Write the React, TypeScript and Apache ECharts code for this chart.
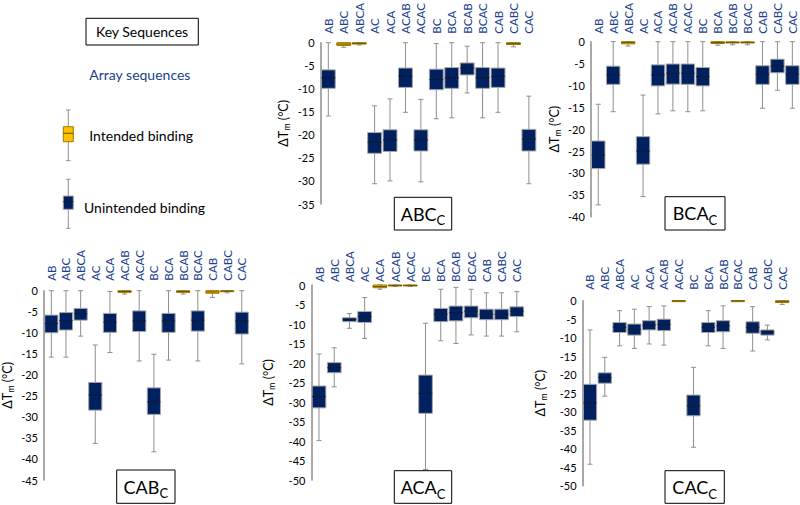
import React, { useEffect, useRef } from "react";
import * as echarts from "echarts";

const categories = ["AB", "ABC", "ABCA", "AC", "ACA", "ACAB", "ACAC", "BC", "BCA", "BCAB", "BCAC", "CAB", "CABC", "CAC"];

// [min, q1, median, q3, max] per category
const abcData = [
  [-15.9, -9.9, -7.6, -5.9, 0],
  [-1.0, -0.6, -0.3, 0, 0],
  [-0.5, -0.3, -0.15, 0, 0],
  [-30.6, -24.0, -21.6, -19.5, -13.7],
  [-30.0, -23.6, -21.1, -18.9, -12.2],
  [-15.1, -9.7, -7.3, -5.5, 0],
  [-30.2, -23.5, -21.1, -18.9, -12.3],
  [-16.5, -10.2, -8.0, -5.75, -0.2],
  [-16.3, -9.9, -7.6, -5.4, 0],
  [-10.9, -7.0, -5.5, -4.4, -0.76],
  [-16.3, -9.9, -7.6, -5.4, 0],
  [-15.1, -9.7, -7.3, -5.5, 0],
  [-0.9, -0.4, -0.2, 0, 0],
  [-30.6, -23.5, -20.9, -18.8, -11.6],
];
const bcaData = [
  [-37.3, -29.0, -25.9, -22.7, -14.3],
  [-16.0, -9.75, -7.6, -5.6, 0],
  [-1.0, -0.5, -0.2, 0, 0],
  [-35.4, -28.0, -25.0, -21.7, -12.2],
  [-16.5, -10.1, -7.6, -5.3, 0],
  [-15.8, -9.7, -7.2, -5.1, 0],
  [-16.0, -9.75, -7.2, -5.1, 0],
  [-15.8, -10.1, -8.0, -5.9, 0],
  [-0.8, -0.4, -0.2, 0, 0],
  [-0.7, -0.3, -0.15, -0.05, 0],
  [-0.7, -0.3, -0.15, -0.05, 0],
  [-15.2, -9.75, -7.4, -5.5, 0],
  [-11.1, -7.1, -5.6, -4.0, 0],
  [-15.2, -9.75, -7.4, -5.5, 0],
];
const cabData = [
  [-15.8, -10.0, -7.8, -5.8, 0],
  [-15.8, -9.35, -7.1, -5.2, 0],
  [-10.8, -7.0, -5.5, -4.2, 0],
  [-36.3, -28.4, -24.8, -21.8, -12.9],
  [-14.7, -9.9, -7.5, -5.4, -0.2],
  [-0.8, -0.4, -0.2, 0, 0],
  [-16.7, -9.7, -7.2, -4.8, 0],
  [-38.3, -29.4, -26.4, -23.1, -15.1],
  [-16.5, -9.9, -7.2, -5.4, 0],
  [-0.8, -0.4, -0.2, 0, 0],
  [-16.7, -9.6, -7.0, -4.8, 0],
  [-1.6, -0.6, -0.3, 0, 0],
  [-0.5, -0.2, -0.1, 0, 0],
  [-17.4, -10.3, -7.2, -5.1, 0],
];
const acaData = [
  [-39.9, -31.5, -28.6, -25.9, -17.7],
  [-26.1, -22.5, -21.2, -19.9, -16.1],
  [-11.1, -9.4, -8.8, -8.4, -7.3],
  [-13.7, -9.6, -8.1, -6.8, -3.2],
  [-1.1, -0.7, -0.4, 0, 0],
  [-0.4, -0.2, -0.1, 0, 0],
  [-0.4, -0.2, -0.1, 0, 0],
  [-47.3, -32.9, -27.8, -23.1, -9.8],
  [-14.3, -9.4, -7.5, -6.0, -1.1],
  [-15.0, -9.2, -7.1, -5.4, -0.6],
  [-12.8, -8.4, -6.7, -5.4, -1.1],
  [-13.1, -8.9, -7.5, -6.2, -2.0],
  [-13.1, -8.9, -7.5, -6.2, -2.0],
  [-12.0, -8.1, -6.7, -5.6, -1.7],
];
const cacData = [
  [-44.2, -32.3, -27.6, -22.6, -7.9],
  [-25.8, -22.3, -20.8, -19.5, -15.3],
  [-12.2, -8.6, -7.2, -5.9, -2.7],
  [-12.9, -9.3, -7.7, -6.3, -2.3],
  [-11.7, -7.9, -6.6, -5.4, -1.6],
  [-12.0, -8.1, -6.4, -5.0, -1.4],
  [-0.15, -0.1, -0.05, 0, 0],
  [-39.6, -31.1, -28.4, -25.5, -18.0],
  [-12.2, -8.6, -7.2, -5.9, -2.7],
  [-12.9, -8.4, -6.8, -5.4, -1.4],
  [-0.15, -0.1, -0.05, 0, 0],
  [-13.6, -8.8, -7.2, -5.7, -1.6],
  [-10.6, -9.3, -8.4, -7.9, -6.6],
  [-1.0, -0.5, -0.25, 0, 0],
];

const abcIntended = ["ABC", "ABCA", "CABC"];
const bcaIntended = ["ABCA", "BCA", "BCAB", "BCAC"];
const cabIntended = ["ACAB", "BCAB", "CAB", "CABC"];
const acaIntended = ["ACA", "ACAB", "ACAC"];
const cacIntended = ["ACAC", "BCAC", "CAC"];

const yMins = [-35, -40, -45, -50, -50];
const panelNames = ["ABC", "BCA", "CAB", "ACA", "CAC"];

const FONT = "Lato, 'Noto Sans', sans-serif";
const NAVY = "#002060";
const GOLD = "#FFC000";
const LABEL_BLUE = "#203f8c";

const panels = [
  { data: abcData, intended: abcIntended, grid: { left: 320.6, top: 35.7, width: 216, height: 168.3 }, margin: 9, nameGap: 30, box: { x: 394.3, y: 197.3, w: 57.4, h: 32.7 } },
  { data: bcaData, intended: bcaIntended, grid: { left: 590.8, top: 41.7, width: 209, height: 175 }, margin: 8, nameGap: 29, box: { x: 665, y: 196.7, w: 60, h: 33.3 } },
  { data: cabData, intended: cabIntended, grid: { left: 41.9, top: 290.7, width: 207.2, height: 189.3 }, margin: 10, nameGap: 29, box: { x: 116.7, y: 470, w: 58.3, h: 33.3 } },
  { data: acaData, intended: acaIntended, grid: { left: 311.4, top: 285, width: 213, height: 195 }, margin: 3, nameGap: 35, box: { x: 394.3, y: 470.7, w: 57.4, h: 32.6 } },
  { data: cacData, intended: cacIntended, grid: { left: 582.6, top: 300.7, width: 207, height: 185 }, margin: 11, nameGap: 35, box: { x: 665, y: 470.7, w: 59.3, h: 32.6 } },
];

const renderBox = (params: any, api: any) => {
  const i = api.value(0);
  const c0 = api.coord([i, api.value(1)]);
  const x = c0[0];
  const yMin = c0[1];
  const yQ1 = api.coord([i, api.value(2)])[1];
  const yMed = api.coord([i, api.value(3)])[1];
  const yQ3 = api.coord([i, api.value(4)])[1];
  const yMax = api.coord([i, api.value(5)])[1];
  const band = api.size([1, 0])[0];
  const w = band * 0.9;
  const intended = api.value(6) === 1;
  const fill = intended ? GOLD : NAVY;
  const border = intended ? "#9c7a00" : "#a6a6a6";
  const medColor = intended ? "#6b5200" : "#111a33";
  const cap = 5;
  const wStyle = { stroke: "#8f8f8f", lineWidth: 1 };
  return {
    type: "group",
    children: [
      { type: "line", shape: { x1: x, y1: yMax, x2: x, y2: yMin }, style: wStyle },
      { type: "line", shape: { x1: x - cap / 2, y1: yMax, x2: x + cap / 2, y2: yMax }, style: wStyle },
      { type: "line", shape: { x1: x - cap / 2, y1: yMin, x2: x + cap / 2, y2: yMin }, style: wStyle },
      { type: "rect", shape: { x: x - w / 2, y: yQ3, width: w, height: Math.max(yQ1 - yQ3, 1) }, style: { fill, stroke: border, lineWidth: 1 } },
      { type: "line", shape: { x1: x - w / 2, y1: yMed, x2: x + w / 2, y2: yMed }, style: { stroke: medColor, lineWidth: 1 } },
    ],
  };
};

export default function App() {
  const ref = useRef<HTMLDivElement>(null);
  useEffect(() => {
    if (!ref.current) return;
    const chart = echarts.init(ref.current, null, { renderer: "svg" });

    const grids = panels.map((p) => ({ ...p.grid, containLabel: false }));
    const xAxes = panels.map((p, k) => ({
      type: "category",
      gridIndex: k,
      position: "top",
      data: categories,
      axisLine: { show: false },
      axisTick: { show: false },
      axisLabel: { rotate: 90, margin: p.margin, color: LABEL_BLUE, fontSize: 11.5, fontFamily: FONT, interval: 0 },
      splitLine: { show: false },
    }));
    const yAxes = panels.map((p, k) => ({
      type: "value",
      gridIndex: k,
      min: yMins[k],
      max: 0,
      interval: 5,
      axisLine: { show: true, lineStyle: { color: "#8c8c8c", width: 1.5 } },
      axisTick: { show: false },
      splitLine: { show: false },
      axisLabel: { color: "#000", fontSize: 11, fontFamily: FONT, margin: 6 },
      name: "{a|ΔT}{b|m}{a| (°C)}",
      nameLocation: "middle",
      nameRotate: 90,
      nameGap: p.nameGap,
      nameTextStyle: {
        rich: {
          a: { fontSize: 12.5, fontFamily: FONT, color: "#000" },
          b: { fontSize: 9, fontFamily: FONT, color: "#000", padding: [6, 0, 0, 0] },
        },
      },
    }));
    const series = panels.map((p, k) => ({
      type: "custom",
      xAxisIndex: k,
      yAxisIndex: k,
      renderItem: renderBox,
      encode: { x: 0, y: [1, 2, 3, 4, 5] },
      data: p.data.map((d, i) => [i, ...d, p.intended.includes(categories[i]) ? 1 : 0]),
    }));

    const titleBoxes = panels.map((p, k) => ({
      type: "group",
      children: [
        { type: "rect", shape: { x: p.box.x, y: p.box.y, width: p.box.w, height: p.box.h }, style: { fill: "#fff", stroke: "#000", lineWidth: 1 }, z: 10 },
        {
          type: "text",
          x: p.box.x + p.box.w / 2,
          y: p.box.y + p.box.h / 2,
          z: 11,
          style: {
            text: `{a|${panelNames[k]}}{b|C}`,
            align: "center",
            verticalAlign: "middle",
            rich: {
              a: { fontSize: 18, fontFamily: FONT, fill: "#000" },
              b: { fontSize: 13, fontFamily: FONT, fill: "#000", padding: [13, 0, 0, 0] },
            },
          },
        },
      ],
    }));

    const wl = { stroke: "#8f8f8f", lineWidth: 1 };
    const legend = [
      { type: "rect", shape: { x: 86, y: 18.3, width: 112.3, height: 26.7 }, style: { fill: "#fff", stroke: "#000", lineWidth: 1 } },
      { type: "text", x: 142, y: 31.7, style: { text: "Key Sequences", fontSize: 14, fontFamily: FONT, fill: "#000", align: "center", verticalAlign: "middle" } },
      { type: "text", x: 89.3, y: 74, style: { text: "Array sequences", fontSize: 14, fontFamily: FONT, fill: LABEL_BLUE, align: "left", verticalAlign: "middle" } },
      { type: "line", shape: { x1: 68.3, y1: 110, x2: 68.3, y2: 160.7 }, style: wl },
      { type: "line", shape: { x1: 66, y1: 110, x2: 70.6, y2: 110 }, style: wl },
      { type: "line", shape: { x1: 66, y1: 160.7, x2: 70.6, y2: 160.7 }, style: wl },
      { type: "rect", shape: { x: 63.3, y: 126.7, width: 10, height: 15 }, style: { fill: GOLD, stroke: "#9c7a00", lineWidth: 1 } },
      { type: "line", shape: { x1: 63.3, y1: 133.3, x2: 73.3, y2: 133.3 }, style: { stroke: "#6b5200", lineWidth: 1 } },
      { type: "text", x: 89.3, y: 135, style: { text: "Intended binding", fontSize: 14, fontFamily: FONT, fill: "#000", align: "left", verticalAlign: "middle" } },
      { type: "line", shape: { x1: 68.3, y1: 179.3, x2: 68.3, y2: 228.3 }, style: wl },
      { type: "line", shape: { x1: 66, y1: 179.3, x2: 70.6, y2: 179.3 }, style: wl },
      { type: "line", shape: { x1: 66, y1: 228.3, x2: 70.6, y2: 228.3 }, style: wl },
      { type: "rect", shape: { x: 63.3, y: 196, width: 10, height: 13.3 }, style: { fill: NAVY, stroke: "#a6a6a6", lineWidth: 1 } },
      { type: "line", shape: { x1: 63.3, y1: 201.7, x2: 73.3, y2: 201.7 }, style: { stroke: "#111a33", lineWidth: 1 } },
      { type: "text", x: 84, y: 207.3, style: { text: "Unintended binding", fontSize: 14, fontFamily: FONT, fill: "#000", align: "left", verticalAlign: "middle" } },
    ];

    chart.setOption({
      animation: false,
      backgroundColor: "#fff",
      grid: grids,
      xAxis: xAxes,
      yAxis: yAxes,
      series,
      graphic: [...legend, ...titleBoxes],
    });
    return () => chart.dispose();
  }, []);
  return <div ref={ref} style={{ position: "fixed", left: 0, top: 0, width: 800, height: 505 }} />;
}
